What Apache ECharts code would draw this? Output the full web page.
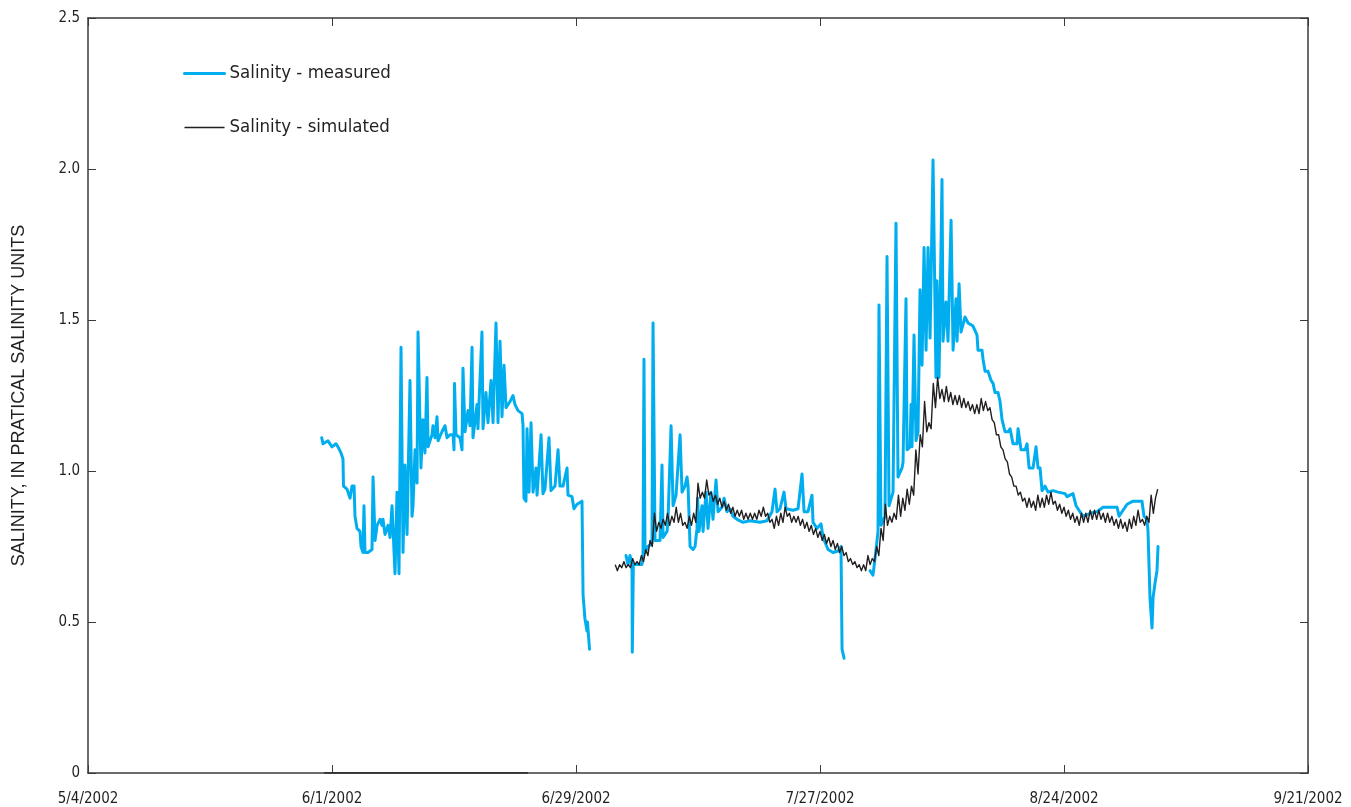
<!DOCTYPE html>
<html>
<head>
<meta charset="utf-8">
<script src="https://cdn.jsdelivr.net/npm/echarts@6/dist/echarts.min.js"></script>
<style>
  html, body { margin: 0; padding: 0; background: #fff; }
  #chart { width: 1351px; height: 807px; }
</style>
</head>
<body>
<div id="chart"></div>
<script>
// Time is counted in days from 5/4/2002 (day 0).
const START_DATE_UTC = Date.UTC(2002, 4, 4);
const X_MIN = 0, X_MAX = 140, X_STEP = 28;
const Y_MIN = 0, Y_MAX = 2.5, Y_STEP = 0.5;

const SERIES_NAMES = ['Salinity - measured', 'Salinity - simulated'];
const Y_AXIS_TITLE = 'SALINITY, IN PRATICAL SALINITY UNITS';

// Measured salinity, [day, psu], three deployments
const measuredA = [
  [26.82,1.11],[26.97,1.09],[27.54,1.10],[28.00,1.08],[28.46,1.09],[28.69,1.08],[29.03,1.06],[29.26,1.04],
  [29.32,0.95],[29.72,0.94],[30.07,0.91],[30.30,0.95],[30.53,0.95],[30.64,0.85],[30.87,0.81],[31.21,0.80],
  [31.33,0.75],[31.56,0.73],[31.67,0.885],[31.79,0.73],[32.13,0.73],[32.59,0.74],[32.71,0.98],[32.94,0.77],
  [33.17,0.82],[33.51,0.84],[33.74,0.82],[33.85,0.84],[34.08,0.79],[34.43,0.82],[34.66,0.78],[34.89,0.885],
  [35.23,0.66],[35.46,0.93],[35.69,0.66],[35.92,1.41],[36.15,0.73],[36.38,1.02],[36.61,0.79],[36.95,1.30],
  [37.18,0.85],[37.30,0.885],[37.53,1.07],[37.76,0.96],[37.87,1.46],[38.21,1.01],[38.44,1.17],[38.67,1.06],
  [38.90,1.31],[39.02,1.08],[39.48,1.12],[39.59,1.15],[39.82,1.11],[40.05,1.18],[40.17,1.10],[40.62,1.13],
  [40.97,1.15],[41.20,1.11],[41.54,1.12],[41.89,1.12],[42.00,1.07],[42.06,1.29],[42.23,1.12],[42.69,1.11],
  [42.92,1.07],[43.03,1.34],[43.26,1.13],[43.61,1.20],[43.84,1.15],[44.07,1.41],[44.18,1.11],[44.64,1.22],
  [44.75,1.14],[45.21,1.46],[45.33,1.14],[45.67,1.26],[45.90,1.16],[46.25,1.30],[46.48,1.16],[46.82,1.49],
  [47.05,1.16],[47.28,1.43],[47.51,1.18],[47.74,1.35],[47.97,1.21],[48.43,1.23],[48.77,1.25],[49.00,1.22],
  [49.35,1.20],[49.81,1.19],[49.92,1.15],[50.03,0.91],[50.26,0.90],[50.38,1.14],[50.61,0.93],[50.84,1.16],
  [51.07,0.93],[51.41,1.01],[51.53,0.92],[51.99,1.12],[52.21,0.925],[52.44,0.94],[52.90,1.11],[53.13,0.935],
  [53.59,0.95],[53.94,1.07],[54.16,0.95],[54.51,0.95],[54.97,1.01],[55.08,0.92],[55.54,0.915],[55.77,0.875],
  [56.12,0.89],[56.69,0.90],[56.81,0.59],[57.03,0.51],[57.26,0.47],[57.32,0.50],[57.49,0.50],[57.55,0.41]
];
const measuredB = [
  [61.74,0.72],[61.97,0.69],[62.20,0.72],[62.43,0.69],[62.46,0.40],[62.54,0.40],[62.58,0.69],[62.99,0.69],
  [63.57,0.69],[63.69,0.72],[63.80,1.37],[63.92,0.73],[64.26,0.75],[64.72,0.76],[64.84,1.49],[65.07,0.77],
  [65.64,0.77],[65.87,1.02],[65.99,0.78],[66.45,0.80],[66.56,0.84],[66.91,1.15],[67.14,0.885],[67.48,0.92],
  [67.94,1.12],[68.17,0.93],[68.51,0.95],[68.74,0.98],[68.86,0.95],[69.09,0.75],[69.43,0.74],[69.66,0.75],
  [69.89,0.81],[69.95,0.91],[70.12,0.80],[70.46,0.885],[70.58,0.80],[70.92,0.93],[71.15,0.81],[71.49,0.93],
  [71.72,0.84],[72.07,0.97],[72.30,0.865],[72.76,0.88],[72.99,0.91],[73.33,0.865],[73.67,0.875],[74.02,0.85],
  [74.48,0.84],[75.17,0.83],[75.97,0.835],[77.12,0.83],[77.92,0.835],[78.49,0.865],[78.84,0.94],[79.07,0.865],
  [79.41,0.875],[79.87,0.93],[80.10,0.875],[80.90,0.87],[81.48,0.875],[81.94,0.99],[82.17,0.865],[82.62,0.865],
  [83.08,0.92],[83.20,0.83],[83.66,0.81],[84.12,0.825],[84.35,0.78],[84.92,0.74],[85.50,0.73],[86.07,0.735],
  [86.41,0.75],[86.53,0.41],[86.76,0.38]
];
const measuredC = [
  [89.74,0.67],[90.08,0.655],[90.31,0.71],[90.66,0.80],[90.77,1.55],[91.00,0.82],[91.46,0.85],[91.69,1.71],
  [91.92,0.885],[92.38,0.93],[92.72,1.82],[92.95,0.98],[93.41,1.01],[93.53,1.03],[93.87,1.57],[93.99,1.07],
  [94.33,1.08],[94.45,1.22],[94.56,1.08],[94.79,1.45],[95.02,1.10],[95.25,1.13],[95.48,1.60],[95.71,1.35],
  [95.94,1.74],[96.17,1.40],[96.40,1.74],[96.63,1.44],[96.97,2.03],[97.31,1.31],[97.43,1.63],[97.66,1.31],
  [98.00,1.965],[98.12,1.43],[98.46,1.56],[98.69,1.43],[99.04,1.83],[99.27,1.40],[99.61,1.57],[99.73,1.43],
  [99.96,1.62],[100.18,1.46],[100.64,1.51],[100.99,1.49],[101.56,1.48],[102.02,1.45],[102.13,1.40],[102.59,1.40],
  [102.71,1.37],[102.94,1.33],[103.28,1.33],[103.63,1.30],[103.86,1.29],[104.08,1.26],[104.43,1.26],[104.66,1.23],
  [104.89,1.17],[105.23,1.13],[105.58,1.13],[105.81,1.14],[106.15,1.09],[106.61,1.09],[106.73,1.14],[107.07,1.07],
  [107.53,1.07],[107.76,1.09],[107.99,1.01],[108.45,1.01],[108.79,1.08],[109.02,1.01],[109.25,1.01],[109.48,0.935],
  [109.82,0.95],[110.17,0.93],[110.74,0.935],[111.31,0.93],[112.12,0.925],[112.35,0.915],[112.69,0.92],[113.03,0.925],
  [113.38,0.885],[113.72,0.87],[114.18,0.85],[114.99,0.86],[115.79,0.865],[116.48,0.88],[118.09,0.88],[118.32,0.85],
  [118.66,0.865],[119.24,0.89],[119.92,0.90],[120.95,0.90],[121.18,0.85],[121.53,0.84],[121.64,0.80],[121.87,0.58],
  [122.10,0.48],[122.22,0.58],[122.45,0.63],[122.67,0.67],[122.79,0.75]
];

// Simulated salinity: a flat run at zero, then a model run sampled every 6 hours
const simulatedZero = [[27.1,0],[50.5,0]];
const SIM_START_DAY = 60.5;
const SIM_STEP_DAYS = 0.25;
const simulatedValues = [
  0.69,0.67,0.69,0.68, 0.70,0.68,0.69,0.68, 0.71,0.69,0.70,0.69, 0.72,0.70,0.74,0.72,
  0.77,0.75,0.86,0.80, 0.83,0.81,0.84,0.82, 0.86,0.82,0.85,0.83, 0.88,0.83,0.86,0.82,
  0.83,0.81,0.85,0.82, 0.86,0.83,0.96,0.91, 0.93,0.91,0.97,0.92, 0.93,0.90,0.92,0.89,
  0.91,0.88,0.90,0.87, 0.89,0.86,0.88,0.85, 0.87,0.85,0.87,0.84, 0.86,0.84,0.86,0.84,
  0.86,0.84,0.87,0.85, 0.88,0.85,0.86,0.83, 0.84,0.81,0.85,0.82, 0.86,0.83,0.88,0.85,
  0.86,0.83,0.85,0.83, 0.85,0.82,0.84,0.81, 0.83,0.80,0.82,0.79, 0.81,0.78,0.80,0.77,
  0.79,0.76,0.78,0.75, 0.77,0.74,0.76,0.73, 0.75,0.72,0.73,0.70, 0.71,0.69,0.70,0.68,
  0.69,0.67,0.69,0.67, 0.72,0.69,0.71,0.70, 0.75,0.72,0.81,0.77, 0.89,0.82,0.85,0.83,
  0.86,0.84,0.92,0.85, 0.91,0.87,0.94,0.89, 0.95,0.92,1.07,0.99, 1.12,1.08,1.23,1.13,
  1.16,1.14,1.29,1.21, 1.31,1.24,1.27,1.23, 1.28,1.23,1.26,1.22, 1.25,1.22,1.25,1.21,
  1.24,1.21,1.23,1.20, 1.22,1.19,1.22,1.19, 1.24,1.20,1.23,1.20, 1.21,1.17,1.16,1.12,
  1.12,1.08,1.07,1.04, 1.03,0.99,0.98,0.95, 0.95,0.92,0.93,0.90, 0.91,0.88,0.91,0.88,
  0.90,0.87,0.92,0.88, 0.91,0.88,0.92,0.89, 0.93,0.89,0.90,0.87, 0.89,0.86,0.88,0.85,
  0.87,0.84,0.86,0.83, 0.85,0.82,0.86,0.83, 0.86,0.83,0.87,0.84, 0.87,0.84,0.87,0.84,
  0.86,0.83,0.86,0.83, 0.85,0.82,0.84,0.81, 0.84,0.81,0.83,0.80, 0.84,0.81,0.85,0.82,
  0.87,0.83,0.84,0.82, 0.85,0.83,0.92,0.86, 0.91,0.94
];

// Assemble series data; null breaks the line between records
function joinSegments(segments) {
  const out = [];
  segments.forEach((seg, i) => {
    if (i > 0) out.push(null);
    seg.forEach(p => out.push(p));
  });
  return out;
}
const measuredData = joinSegments([measuredA, measuredB, measuredC]);
const simulatedRun = simulatedValues.map((v, i) => [SIM_START_DAY + i * SIM_STEP_DAYS, v]);
const simulatedData = joinSegments([simulatedZero, simulatedRun]);

function dayLabel(day) {
  const d = new Date(START_DATE_UTC + Math.round(day) * 86400000);
  return (d.getUTCMonth() + 1) + '/' + d.getUTCDate() + '/' + d.getUTCFullYear();
}

const FONT = "'Liberation Sans Narrow', 'DejaVu Sans Condensed', 'Roboto', sans-serif";
const TITLE_FONT = "'Liberation Sans', 'Arial', sans-serif";
const INK = '#231f20';
const AXIS_COLOR = '#3a3a3a';
const BLUE = '#00aeef';
const MEASURED_WIDTH = 3;
const SIMULATED_WIDTH = 1.4;

const baseX = {
  type: 'value', min: X_MIN, max: X_MAX, interval: X_STEP,
  axisLine: { show: true, onZero: false, lineStyle: { color: AXIS_COLOR, width: 1.5 } },
  axisTick: { show: true, inside: true, length: 8, lineStyle: { color: AXIS_COLOR, width: 1 } },
  splitLine: { show: false }
};
const baseY = {
  type: 'value', min: Y_MIN, max: Y_MAX, interval: Y_STEP,
  axisLine: { show: true, onZero: false, lineStyle: { color: AXIS_COLOR, width: 1.5 } },
  axisTick: { show: true, inside: true, length: 8, lineStyle: { color: AXIS_COLOR, width: 1 } },
  splitLine: { show: false }
};

const chart = echarts.init(document.getElementById('chart'), null, { renderer: 'canvas' });
chart.setOption({
  animation: false,
  backgroundColor: '#ffffff',
  grid: { left: 88, right: 43, top: 18, bottom: 32, containLabel: false },
  legend: {
    orient: 'vertical',
    left: 183, top: 64, padding: 0,
    itemWidth: 40, itemHeight: 14, itemGap: 35,
    itemStyle: { opacity: 0 },
    textStyle: { fontFamily: FONT, fontSize: 18.5, color: INK },
    data: [
      { name: SERIES_NAMES[0], lineStyle: { width: MEASURED_WIDTH, color: BLUE } },
      { name: SERIES_NAMES[1], lineStyle: { width: SIMULATED_WIDTH, color: INK } }
    ]
  },
  xAxis: [
    Object.assign({}, baseX, {
      position: 'bottom',
      axisLabel: {
        show: true, margin: 19, fontFamily: FONT, fontSize: 15, color: INK,
        showMinLabel: true, showMaxLabel: true,
        formatter: v => dayLabel(v)
      }
    }),
    Object.assign({}, baseX, { position: 'top', axisLabel: { show: false } })
  ],
  yAxis: [
    Object.assign({}, baseY, {
      position: 'left',
      name: Y_AXIS_TITLE,
      nameLocation: 'middle',
      nameRotate: 90,
      nameGap: 60,
      nameTextStyle: { fontFamily: TITLE_FONT, fontSize: 18, color: INK },
      axisLabel: {
        show: true, margin: 8, fontFamily: FONT, fontSize: 15, color: INK,
        formatter: v => (v === 0 ? '0' : v.toFixed(1))
      }
    }),
    Object.assign({}, baseY, { position: 'right', axisLabel: { show: false } })
  ],
  series: [
    {
      name: SERIES_NAMES[0],
      type: 'line',
      xAxisIndex: 0, yAxisIndex: 0,
      data: measuredData,
      showSymbol: false, symbol: 'none',
      connectNulls: false,
      lineStyle: { color: BLUE, width: MEASURED_WIDTH, join: 'round', cap: 'round' },
      itemStyle: { color: BLUE },
      z: 2
    },
    {
      name: SERIES_NAMES[1],
      type: 'line',
      xAxisIndex: 0, yAxisIndex: 0,
      data: simulatedData,
      showSymbol: false, symbol: 'none',
      connectNulls: false,
      lineStyle: { color: INK, width: SIMULATED_WIDTH, join: 'round' },
      itemStyle: { color: INK },
      z: 3
    }
  ]
});
</script>
</body>
</html>
